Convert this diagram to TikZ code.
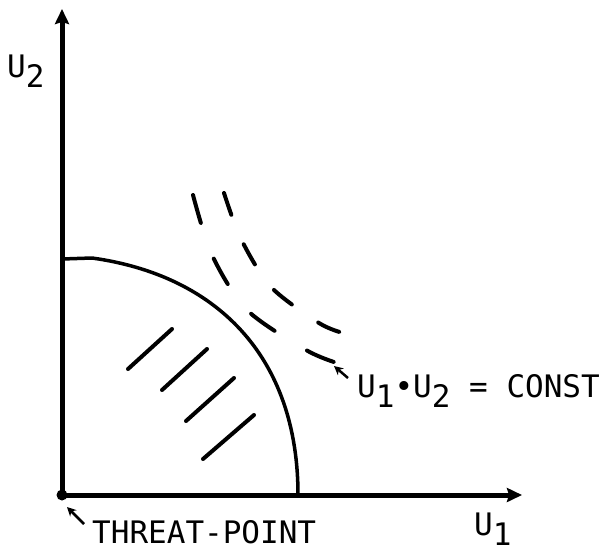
\documentclass[tikz,border=0pt]{standalone}
\usepackage{fontspec}
\setmonofont{DejaVu Sans Mono}
\usetikzlibrary{arrows.meta}
\newcommand{\lowsub}[1]{\raisebox{-10pt}{#1}}

\begin{document}
\begin{tikzpicture}[x=1pt,y=-1pt,
    axis/.style={line width=5pt,-{Stealth[length=15pt,width=14pt,inset=2pt]}},
    frontier/.style={line width=3.5pt,line cap=round,line join=round},
    hatch/.style={line width=4pt,line cap=round},
    level/.style={line width=4pt,line cap=round},
    pointer/.style={line width=2.5pt,-{Stealth[length=9pt,width=9pt]}},
    lbl/.style={font=\ttfamily\fontsize{31}{36}\selectfont,inner sep=0pt,anchor=base west}]
  \useasboundingbox (0,0) rectangle (613,555);
  % axes and threat point
  \coordinate (O) at (62,495);
  \coordinate (ytip) at (62,9);
  \coordinate (xtip) at (522,495);
  \draw[axis] (O) -- (ytip);
  \draw[axis] (O) -- (xtip);
  \fill (O) circle (5.5pt);
  % utility frontier
  \draw[frontier] (62,259) -- (92,258) .. controls (215,275) and (298,355) .. (298,495);
  % feasible set
  \foreach \ax/\ay/\bx/\by in {128/369/172/329, 162/390/207/349, 186/421/234/378, 203/459/254/415}
    \draw[hatch] (\ax,\ay) -- (\bx,\by);
  % level curves of the product
  \draw[level,dash pattern=on 29pt off 38pt] plot[smooth] coordinates {(193,195) (212,255)
    (247,310) (306,350) (337,363)};
  \draw[level,dash pattern=on 23pt off 32pt] plot[smooth] coordinates {(224,193) (241,239)
    (271,287) (319,323) (343,333)};
  % labels
  \node[lbl] (ylab) at (7,77) {U\lowsub{2}};
  \node[lbl] (xlab) at (474,535) {U\lowsub{1}};
  \node[lbl] (tplab) at (92,543) {THREAT-POINT};
  \node[lbl] (constlab) at (357,397) {U\lowsub{1}•U\lowsub{2} = CONST};
  \coordinate (tptail) at (84,524);
  \coordinate (tphead) at (67,507);
  \coordinate (ctail) at (348,378);
  \coordinate (chead) at (334,366);
  \draw[pointer] (tptail) -- (tphead);
  \draw[pointer] (ctail) -- (chead);
\end{tikzpicture}
\end{document}
